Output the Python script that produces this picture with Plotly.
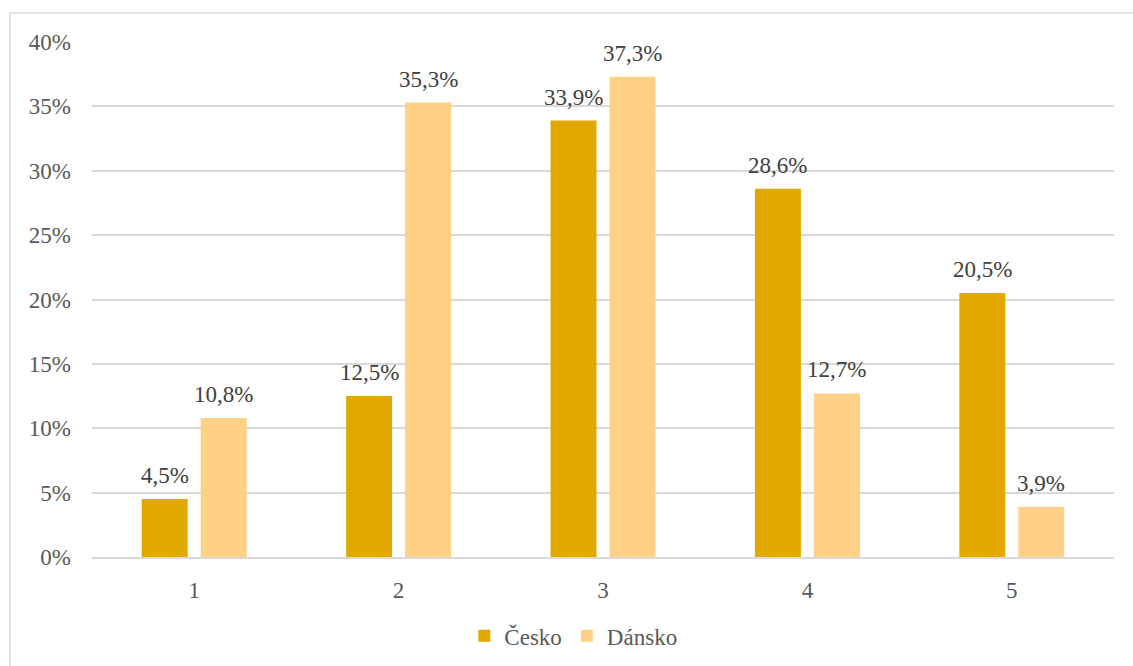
import plotly.graph_objects as go

categories = ["1", "2", "3", "4", "5"]
cesko = [4.5, 12.5, 33.9, 28.6, 20.5]
dansko = [10.8, 35.3, 37.3, 12.7, 3.9]
y_ticks = [0, 5, 10, 15, 20, 25, 30, 35, 40]
y_tick_labels = [f"{v}%" for v in y_ticks]

FONT = "Liberation Serif"
GRID = "#D9D9D9"
FS = 23


def fmt(v):
    return f"{v:.1f}".replace(".", ",") + "%"


series = [("Česko", cesko, "#E1A800", -29.5), ("Dánsko", dansko, "#FFD086", 29.5)]

fig = go.Figure()
annotations = []
for name, vals, color, shift in series:
    fig.add_trace(go.Bar(
        name=name, x=categories, y=vals,
        marker=dict(color=color, line=dict(width=0)),
    ))
    # value labels sit above each bar, offset to the bar's slot in the group
    for i, v in enumerate(vals):
        annotations.append(dict(
            x=i, y=v, xref="x", yref="y", text=fmt(v), showarrow=False,
            xshift=shift, yshift=9, yanchor="bottom", xanchor="center",
            font=dict(family=FONT, size=FS, color="#404040"),
        ))

fig.update_layout(
    width=1133, height=666,
    margin=dict(l=92, r=19, t=42, b=109, autoexpand=False),
    paper_bgcolor="white", plot_bgcolor="white",
    barmode="group", bargap=0.423, bargroupgap=0.22,
    font=dict(family=FONT, size=FS, color="#595959"),
    showlegend=True,
    legend=dict(
        orientation="h", x=0.471, xanchor="center", y=-0.153, yanchor="middle",
        font=dict(family=FONT, size=FS, color="#595959"),
        traceorder="normal", itemwidth=30,
    ),
    annotations=annotations,
    shapes=[dict(
        type="rect", xref="paper", yref="paper",
        x0=-0.0802, x1=1.2, y0=-0.5, y1=1.0563,
        line=dict(color=GRID, width=1.5), fillcolor="rgba(0,0,0,0)", layer="below",
    )],
)
fig.update_xaxes(
    type="category", automargin=False,
    showgrid=False, showline=True, linecolor=GRID, linewidth=1.5,
    ticks="", ticklabelstandoff=12,
    tickfont=dict(family=FONT, size=FS, color="#595959"),
)
fig.update_yaxes(
    range=[0, 40], tickvals=y_ticks, ticktext=y_tick_labels, automargin=False,
    showgrid=True, gridcolor=GRID, gridwidth=1.5, zeroline=False,
    showline=False, ticks="", ticklabelstandoff=20,
    tickfont=dict(family=FONT, size=FS, color="#595959"),
)

fig.write_html("out.html")
